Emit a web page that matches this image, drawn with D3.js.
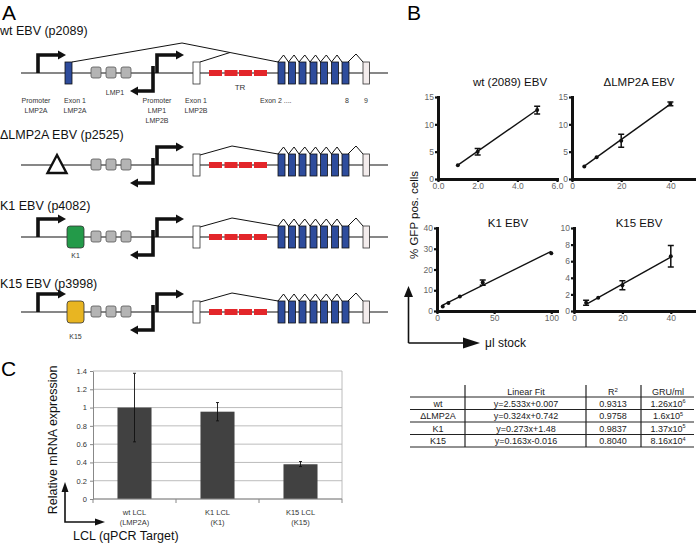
<!DOCTYPE html>
<html><head><meta charset="utf-8">
<script src="https://cdn.jsdelivr.net/npm/d3@7"></script>
<style>
body{margin:0;background:#fff;}
svg{display:block;font-family:"Liberation Sans",Arial,Helvetica,sans-serif;}
</style></head><body>
<svg id="c" width="696" height="543"></svg>
<script>
// ---------------- DATA ----------------
const constructNames = ["wt EBV (p2089)", "ΔLMP2A EBV (p2525)", "K1 EBV (p4082)", "K15 EBV (p3998)"];
const exon1Kinds = ["LMP2A", "deleted", "K1", "K15"];
const exon1Labels = ["", "", "K1", "K15"];
const trExonCount = [4, 4, 4, 4];
const bodyExonCount = 7;

const fitTitles = ["wt (2089) EBV", "ΔLMP2A EBV", "K1 EBV", "K15 EBV"];
const wtX = [1, 2, 5], wtY = [2.5, 5.0, 12.6], wtErr = [0, 0.6, 0.7];
const dX = [5, 10, 20, 40], dY = [2.3, 4.0, 7.0, 13.75], dErr = [0, 0, 1.2, 0.35];
const k1X = [5, 10, 20, 40, 100], k1Y = [2.2, 3.8, 7.0, 13.7, 27.8], k1Err = [0, 0, 0, 1.3, 0];
const k15X = [5, 10, 20, 40], k15Y = [1.0, 1.6, 3.1, 6.6], k15Err = [0.3, 0, 0.55, 1.3];
const fitSlope = [2.533, 0.324, 0.273, 0.163];
const fitIntercept = [0.007, 0.742, 1.48, -0.016];
const xDomains = [[0, 6], [0, 50], [0, 105], [0, 50]];
const yDomains = [[0, 15], [0, 15], [0, 40], [0, 10]];
const xTicks = [[0, 2, 4, 6], [0, 20, 40], [0, 50, 100], [0, 20, 40]];
const yTicks = [[0, 5, 10, 15], [0, 5, 10, 15], [0, 10, 20, 30, 40], [0, 2, 4, 6, 8, 10]];

const tableHeader = ["", "Linear Fit", "R2", "GRU/ml"];
const tableRows = ["wt", "ΔLMP2A", "K1", "K15"];
const tableFits = ["y=2.533x+0.007", "y=0.324x+0.742", "y=0.273x+1.48", "y=0.163x-0.016"];
const tableR2 = ["0.9313", "0.9758", "0.9837", "0.8040"];
const gruMantissa = ["1.26x10", "1.6x10", "1.37x10", "8.16x10"];
const gruExponent = ["6", "5", "5", "4"];

const lclCategories = [["wt LCL", "(LMP2A)"], ["K1 LCL", "(K1)"], ["K15 LCL", "(K15)"]];
const lclValues = [1.0, 0.955, 0.38];
const lclErrLow = [0.625, 0.855, 0.355];
const lclErrHigh = [1.375, 1.055, 0.41];
const lclYTicks = [0, 0.2, 0.4, 0.6, 0.8, 1.0, 1.2, 1.4];
const lclYTickLabels = ["0", "0.2", "0.4", "0.6", "0.8", "1", "1.2", "1.4"];

// ---------------- DRAW ----------------
const svg = d3.select("#c");
const black = "#111";

// Panel letters
svg.append("text").attr("x", 2).attr("y", 20).attr("font-size", 21).text("A");
svg.append("text").attr("x", 407).attr("y", 20).attr("font-size", 21).text("B");
svg.append("text").attr("x", 1).attr("y", 376).attr("font-size", 21).text("C");

// ===== Panel A: gene diagrams =====
const gx = d3.scaleLinear().domain([0, 100]).range([0, 100]); // diagram units = px
const trackY = [73, 165, 237, 312];
const titleY = [35, 139, 210, 288];
const A = svg.append("g");

function bentArrow(g, x, yStart, yBend, xEnd, dir) {
  g.append("path").attr("d", `M${gx(x)},${yStart}V${yBend}H${gx(xEnd)}`)
    .attr("fill", "none").attr("stroke", black).attr("stroke-width", 3.6).attr("stroke-linejoin", "miter");
  const tip = xEnd + dir * 7;
  g.append("path").attr("d", `M${gx(xEnd - dir)},${yBend - 4.5}L${gx(tip)},${yBend}L${gx(xEnd - dir)},${yBend + 4.5}Z`).attr("fill", black);
}

const bodyX = [278, 288.5, 299, 310, 320.5, 331.5, 342];

constructNames.forEach((name, i) => {
  const ty = trackY[i];
  const g = A.append("g");
  g.append("text").attr("x", 0).attr("y", titleY[i]).attr("font-size", 12.5).attr("fill", black).text(name);
  g.append("line").attr("x1", gx(21)).attr("x2", gx(388)).attr("y1", ty).attr("y2", ty).attr("stroke", black).attr("stroke-width", 1.2);

  const sp = g.append("g").attr("fill", "none").attr("stroke", black).attr("stroke-width", 1);
  if (exon1Kinds[i] === "LMP2A") {
    sp.append("path").attr("d", `M72,${ty - 11}L182,${ty - 30}L278,${ty - 11}`);
    const yOn = (ty - 30) + (230 - 182) / (278 - 182) * 19;
    sp.append("path").attr("d", `M200,${ty - 11}L230,${yOn}`);
  } else {
    sp.append("path").attr("d", `M200,${ty - 10}L232,${ty - 19}L278,${ty - 11}`);
  }
  for (let k = 0; k < bodyX.length - 1; k++) {
    const a = bodyX[k], b = bodyX[k + 1];
    sp.append("path").attr("d", `M${a},${ty - 11}L${(a + b) / 2 + 0.3},${ty - 18}L${b},${ty - 11}`);
  }
  sp.append("path").attr("d", `M348,${ty - 11}L356,${ty - 19}L363,${ty - 11}`);

  if (exon1Kinds[i] === "LMP2A") {
    g.append("rect").attr("x", 65).attr("y", ty - 11).attr("width", 7).attr("height", 22).attr("fill", "#2e4c9c").attr("stroke", "#111").attr("stroke-width", 0.8);
  } else if (exon1Kinds[i] === "deleted") {
    g.append("path").attr("d", `M57,${ty - 10}L66.5,${ty + 8}L47.5,${ty + 8}Z`).attr("fill", "#fff").attr("stroke", black).attr("stroke-width", 2.4).attr("stroke-linejoin", "miter");
  } else {
    const col = exon1Kinds[i] === "K1" ? "#239a49" : "#e8b522";
    g.append("rect").attr("x", 67).attr("y", ty - 11).attr("width", 17).attr("height", 22).attr("rx", 3).attr("fill", col).attr("stroke", "#333").attr("stroke-width", 0.8);
    g.append("text").attr("x", 75.5).attr("y", ty + (i === 2 ? 21 : 27)).attr("font-size", 7).attr("text-anchor", "middle").attr("fill", "#333").text(exon1Labels[i]);
  }
  if (exon1Kinds[i] !== "deleted") bentArrow(g, 38, ty, ty - 18, 59, 1);

  [91, 106, 121].forEach(x => g.append("rect").attr("x", x).attr("y", ty - 6).attr("width", 10).attr("height", 11).attr("rx", 2).attr("fill", "#b4b4b4").attr("stroke", "#555").attr("stroke-width", 0.8));

  bentArrow(g, 157, ty, ty - 18, 177, 1);
  bentArrow(g, 153, ty - 7, ty + 18, 137, -1);

  g.append("rect").attr("x", 193).attr("y", ty - 11).attr("width", 7).attr("height", 22).attr("fill", "#fff").attr("stroke", "#333").attr("stroke-width", 0.8);
  const trX = [209, 224.5, 239, 254];
  trX.slice(0, trExonCount[i]).forEach(x => g.append("rect").attr("x", x).attr("y", ty - 3).attr("width", 13).attr("height", 6).attr("fill", "#e3262a"));
  bodyX.slice(0, bodyExonCount).forEach(x => g.append("rect").attr("x", x).attr("y", ty - 11).attr("width", 7).attr("height", 22).attr("fill", "#2e4c9c").attr("stroke", "#111").attr("stroke-width", 0.8));
  g.append("rect").attr("x", 363).attr("y", ty - 11).attr("width", 6.5).attr("height", 22).attr("fill", "#f3ecec").attr("stroke", "#333").attr("stroke-width", 0.8);
});

const lab = A.append("g").attr("font-size", 7).attr("fill", "#333").attr("text-anchor", "middle");
function mlabel(x, y, lines) { lines.forEach((t, k) => lab.append("text").attr("x", x).attr("y", y + k * 10).text(t)); }
mlabel(36, 103, ["Promoter", "LMP2A"]);
mlabel(75, 103, ["Exon 1", "LMP2A"]);
mlabel(115, 95, ["LMP1"]);
mlabel(157, 103, ["Promoter", "LMP1", "LMP2B"]);
mlabel(196, 103, ["Exon 1", "LMP2B"]);
lab.append("text").attr("x", 240).attr("y", 90).attr("font-size", 8).text("TR");
lab.append("text").attr("x", 260).attr("y", 103).attr("text-anchor", "start").text("Exon 2 ....");
lab.append("text").attr("x", 347).attr("y", 103).text("8");
lab.append("text").attr("x", 366).attr("y", 103).text("9");

// ===== Panel B: linear fits =====
const plots = [
  { x: [438, 557], y: [179, 97], xs: wtX, ys: wtY, err: wtErr, tx: 510, ty: 86 },
  { x: [572, 695], y: [179, 97], xs: dX, ys: dY, err: dErr, tx: 639, ty: 86 },
  { x: [437, 557], y: [311, 228], xs: k1X, ys: k1Y, err: k1Err, tx: 508, ty: 227 },
  { x: [574, 695], y: [311, 228], xs: k15X, ys: k15Y, err: k15Err, tx: 639, ty: 227 }
];
plots.forEach((p, i) => {
  const xs = d3.scaleLinear().domain(xDomains[i]).range(p.x);
  const ys = d3.scaleLinear().domain(yDomains[i]).range(p.y);
  const g = svg.append("g");
  g.append("text").attr("x", p.tx).attr("y", p.ty).attr("text-anchor", "middle").attr("font-size", 11.5).attr("fill", black).text(fitTitles[i]);
  const ax = g.append("g").attr("transform", `translate(0,${p.y[0]})`)
    .call(d3.axisBottom(xs).tickValues(xTicks[i]).tickSize(3).tickSizeOuter(0).tickPadding(1));
  const ay = g.append("g").attr("transform", `translate(${p.x[0]},0)`)
    .call(d3.axisLeft(ys).tickValues(yTicks[i]).tickSize(3).tickSizeOuter(0).tickPadding(1));
  [ax, ay].forEach(a => {
    a.select(".domain").attr("stroke", black).attr("stroke-width", 3).attr("stroke-linecap", "square");
    a.selectAll(".tick line").attr("stroke", black).attr("stroke-width", 2.2);
    a.selectAll(".tick text").attr("fill", "#666").attr("font-size", 8.5).attr("font-family", "Liberation Sans,Arial,sans-serif");
  });
  const x0 = d3.min(p.xs), x1 = d3.max(p.xs);
  g.append("line").attr("x1", xs(x0)).attr("x2", xs(x1))
    .attr("y1", ys(fitSlope[i] * x0 + fitIntercept[i])).attr("y2", ys(fitSlope[i] * x1 + fitIntercept[i]))
    .attr("stroke", black).attr("stroke-width", 1.4);
  p.xs.forEach((xv, k) => {
    const e = p.err[k];
    if (e > 0) {
      const cx = xs(xv), yt = ys(p.ys[k] + e), yb = ys(p.ys[k] - e);
      g.append("path").attr("d", `M${cx},${yt}V${yb}M${cx - 3},${yt}H${cx + 3}M${cx - 3},${yb}H${cx + 3}`)
        .attr("stroke", black).attr("stroke-width", 1.5).attr("fill", "none");
    }
    g.append("circle").attr("cx", xs(xv)).attr("cy", ys(p.ys[k])).attr("r", 2).attr("fill", black);
  });
});

const arr = svg.append("g");
arr.append("path").attr("d", "M408.5,343V296M408.5,343H465").attr("fill", "none").attr("stroke", black).attr("stroke-width", 1.6);
arr.append("path").attr("d", "M404,297L408.5,286L413,297Z").attr("fill", black);
arr.append("path").attr("d", "M463,337.5L480,343L463,348.5Z").attr("fill", black);
svg.append("text").attr("x", 485).attr("y", 347).attr("font-size", 12).attr("fill", black).text("μl stock");
svg.append("text").attr("transform", "translate(418,215) rotate(-90)").attr("text-anchor", "middle").attr("font-size", 11.5).attr("fill", black).text("% GFP pos. cells");

// table
const T = svg.append("g").attr("font-size", 9).attr("fill", "#222");
const rowLines = [397, 409.5, 422, 434.5, 447];
rowLines.forEach(y => T.append("line").attr("x1", 410).attr("x2", 694).attr("y1", y).attr("y2", y).attr("stroke", "#222").attr("stroke-width", 1));
[465, 586, 641].forEach(x => T.append("line").attr("x1", x).attr("x2", x).attr("y1", 385).attr("y2", 447).attr("stroke", "#222").attr("stroke-width", 1.2));
const colC = [438, 526, 613, 668];
const headY = 394.5, rowTextY = [406.5, 419, 431.5, 444];
T.append("text").attr("x", colC[1]).attr("y", headY).attr("text-anchor", "middle").text(tableHeader[1]);
const r2 = T.append("text").attr("x", colC[2]).attr("y", headY).attr("text-anchor", "middle");
r2.append("tspan").text(tableHeader[2].slice(0, 1));
r2.append("tspan").attr("font-size", 6).attr("dy", -3).text(tableHeader[2].slice(1));
T.append("text").attr("x", colC[3]).attr("y", headY).attr("text-anchor", "middle").text(tableHeader[3]);
tableRows.forEach((r, k) => {
  T.append("text").attr("x", colC[0]).attr("y", rowTextY[k]).attr("text-anchor", "middle").text(r);
  T.append("text").attr("x", colC[1]).attr("y", rowTextY[k]).attr("text-anchor", "middle").text(tableFits[k]);
  T.append("text").attr("x", colC[2]).attr("y", rowTextY[k]).attr("text-anchor", "middle").text(tableR2[k]);
  const t = T.append("text").attr("x", colC[3]).attr("y", rowTextY[k]).attr("text-anchor", "middle");
  t.append("tspan").text(gruMantissa[k]);
  t.append("tspan").attr("font-size", 5.5).attr("dy", -3.5).text(gruExponent[k]);
});

// ===== Panel C: bar chart =====
const C = svg.append("g");
const cx = d3.scaleBand().domain(d3.range(lclValues.length)).range([93, 342]).paddingInner(0.59).paddingOuter(0.295);
const cy = d3.scaleLinear().domain([0, 1.4]).range([499, 371]);
lclYTicks.forEach(v => C.append("line").attr("x1", 93).attr("x2", 342).attr("y1", cy(v)).attr("y2", cy(v)).attr("stroke", "#b4b4b4").attr("stroke-width", 0.9));
C.append("line").attr("x1", 342).attr("x2", 342).attr("y1", cy(0)).attr("y2", cy(1.4)).attr("stroke", "#b4b4b4").attr("stroke-width", 0.9);
const cyAxis = C.append("g").attr("transform", "translate(93,0)")
  .call(d3.axisLeft(cy).tickValues(lclYTicks).tickFormat((d, i) => lclYTickLabels[i]).tickSize(3).tickSizeOuter(0).tickPadding(3));
cyAxis.select(".domain").attr("stroke", "#888");
cyAxis.selectAll(".tick line").attr("stroke", "#888");
cyAxis.selectAll(".tick text").attr("fill", "#333").attr("font-size", 7.5).attr("font-family", "Liberation Sans,Arial,sans-serif");
lclValues.forEach((v, k) => {
  C.append("rect").attr("x", cx(k)).attr("width", cx.bandwidth()).attr("y", cy(v)).attr("height", cy(0) - cy(v)).attr("fill", "#414141");
});
C.append("line").attr("x1", 93).attr("x2", 342).attr("y1", cy(0)).attr("y2", cy(0)).attr("stroke", "#888").attr("stroke-width", 1);
d3.range(lclValues.length + 1).forEach(k => {
  const x = 93 + k * cx.step();
  C.append("line").attr("x1", x).attr("x2", x).attr("y1", cy(0)).attr("y2", cy(0) + 4).attr("stroke", "#888");
});
lclValues.forEach((v, k) => {
  const x = cx(k) + cx.bandwidth() / 2;
  C.append("path").attr("d", `M${x},${cy(lclErrHigh[k])}V${cy(lclErrLow[k])}M${x - 1.5},${cy(lclErrHigh[k])}H${x + 1.5}M${x - 1.5},${cy(lclErrLow[k])}H${x + 1.5}`)
    .attr("stroke", black).attr("stroke-width", 0.9).attr("fill", "none");
});
lclCategories.forEach((lines, k) => {
  const x = cx(k) + cx.bandwidth() / 2;
  lines.forEach((t, j) => C.append("text").attr("x", x).attr("y", 514.5 + j * 10).attr("text-anchor", "middle").attr("font-size", 7.5).attr("fill", "#333").text(t));
});
C.append("text").attr("transform", "translate(57,440) rotate(-90)").attr("text-anchor", "middle").attr("font-size", 12.5).attr("fill", black).text("Relative mRNA expression");
C.append("text").attr("x", 73).attr("y", 540).attr("font-size", 12.5).attr("fill", black).text("LCL (qPCR Target)");
C.append("path").attr("d", "M65,491V522H97").attr("fill", "none").attr("stroke", black).attr("stroke-width", 1.6);
C.append("path").attr("d", "M61.5,492L65,482L68.5,492Z").attr("fill", black);
C.append("path").attr("d", "M95,518.5L105,522L95,525.5Z").attr("fill", black);
</script>
</body></html>
